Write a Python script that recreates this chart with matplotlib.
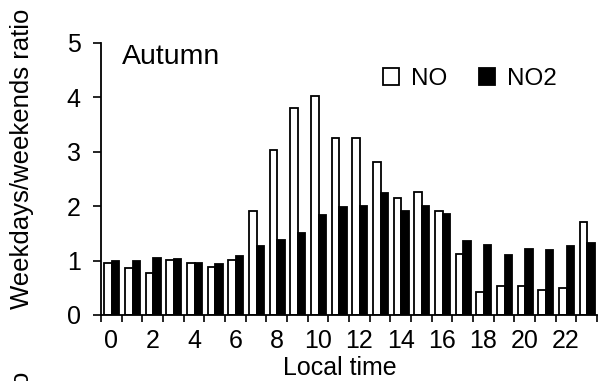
import numpy as np
import matplotlib.pyplot as plt
from matplotlib.patches import Patch

plt.rcParams['font.family'] = ['Liberation Sans', 'DejaVu Sans']

# donnees
heures = np.arange(24)
no_ratio = [0.96, 0.87, 0.78, 1.01, 0.96, 0.89, 1.01, 1.91, 3.04, 3.80, 4.02, 3.26,
            3.26, 2.81, 2.15, 2.27, 1.91, 1.13, 0.43, 0.54, 0.54, 0.46, 0.49, 1.71]
no2_ratio = [1.00, 0.99, 1.05, 1.03, 0.95, 0.94, 1.09, 1.27, 1.37, 1.51, 1.84, 1.99,
             2.01, 2.24, 1.91, 2.00, 1.85, 1.36, 1.28, 1.11, 1.21, 1.20, 1.27, 1.33]
labels_x = [str(h) for h in range(0, 24, 2)]

W, H = 607, 381
fig = plt.figure(figsize=(W / 100, H / 100), dpi=100)
ax = fig.add_axes([101 / W, 1 - 315 / H, 496 / W, 272 / H])

largeur = 0.37
ax.bar(heures - 0.16, no_ratio, largeur, color='white', edgecolor='black', linewidth=1.3, label='NO')
ax.bar(heures + 0.21, no2_ratio, largeur, color='black', edgecolor='black', linewidth=1.3, label='NO2')

ax.set_xlim(-0.5, 23.5)
ax.set_ylim(0, 5)
ax.set_yticks(range(6))
ax.set_xticks(range(0, 24, 2))
ax.set_xticklabels(labels_x)
ax.set_xticks(np.arange(-0.5, 24, 1), minor=True)
ax.tick_params(axis='x', which='major', length=0, pad=10, labelsize=18)
ax.tick_params(axis='x', which='minor', length=5, width=1.2, direction='out')
ax.tick_params(axis='y', length=5.5, width=1.2, pad=9, labelsize=18)

for s in ['top', 'right']:
    ax.spines[s].set_visible(False)
for s in ['left', 'bottom']:
    ax.spines[s].set_linewidth(1.3)

ax.text(122 / W, 1 - 57 / H, 'Autumn', transform=fig.transFigure, fontsize=20.5, va='center', ha='left')

handles = [Patch(facecolor='white', edgecolor='black', linewidth=1.3, label='NO'),
           Patch(facecolor='black', edgecolor='black', linewidth=1.3, label='NO2')]
ax.legend(handles=handles, ncol=2, frameon=False, fontsize=17.5, loc='center',
          bbox_to_anchor=(470 / W, 1 - 79 / H), bbox_transform=fig.transFigure,
          handlelength=0.65, handleheight=0.65, handletextpad=0.5, columnspacing=1.3)

fig.text(340 / W, 1 - 368 / H, 'Local time', fontsize=18, ha='center', va='center')
fig.text(22 / W, 1 - 159 / H, 'Weekdays/weekends ratio', fontsize=18.5, rotation=90,
         ha='center', va='center')
# debut du panneau suivant, coupe en bas
fig.text(22 / W, 1 - 372 / H, 'Weekdays/weekends ratio', fontsize=18.5, rotation=90,
         ha='center', va='top')

fig.savefig('out.png', dpi=100)
